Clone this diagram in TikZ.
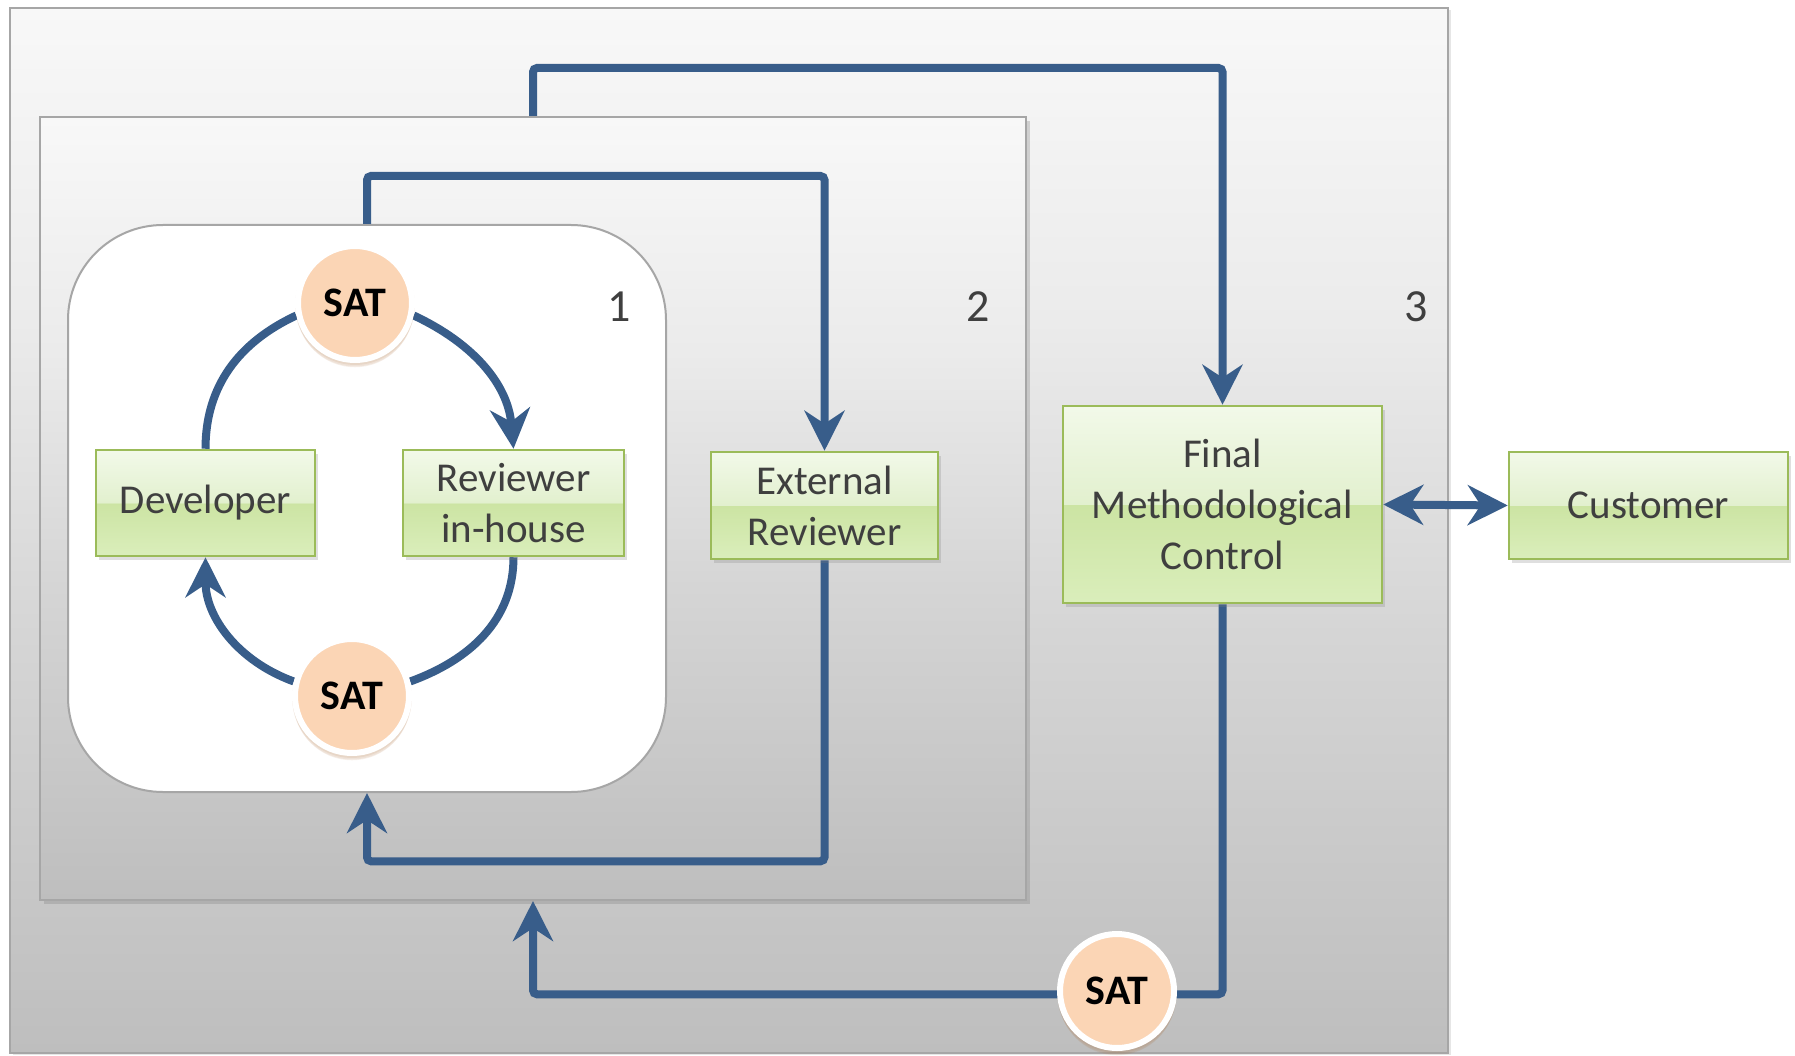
\documentclass[tikz,border=0pt]{standalone}
\usepackage{fontspec}
\setmainfont{Carlito}
\usetikzlibrary{arrows.meta,shadows,calc}
\definecolor{lineblue}{HTML}{385D8A}
\definecolor{gborder}{HTML}{9BBB59}
\definecolor{gtop}{HTML}{F2F9E9}
\definecolor{gmidl}{HTML}{E2F0CE}
\definecolor{gmidd}{HTML}{CCE4A3}
\definecolor{gbot}{HTML}{DAEEBB}
\definecolor{satfill}{HTML}{FBD5B5}
\definecolor{satshadow}{HTML}{B0703A}
\definecolor{txtgray}{HTML}{3F3F3F}
\definecolor{boxedge}{HTML}{A6A6A6}
\definecolor{gya}{HTML}{BEBEBE}
\definecolor{gyb}{HTML}{D5D5D5}
\definecolor{gyc}{HTML}{EBEBEB}
\definecolor{gyd}{HTML}{F8F8F8}
\pgfdeclareverticalshading{greenbox}{100bp}{color(0bp)=(gbot); color(25bp)=(gbot); color(50bp)=(gmidd); color(50.01bp)=(gmidl); color(75bp)=(gtop); color(100bp)=(gtop)}
\pgfdeclareverticalshading{greybg}{100bp}{color(0bp)=(gya); color(25bp)=(gya); color(45bp)=(gyb); color(60bp)=(gyc); color(75bp)=(gyd); color(100bp)=(gyd)}
\pgfdeclarelayer{back}
\pgfdeclarelayer{mid}
\pgfsetlayers{back,mid,main}
\begin{document}
\begin{tikzpicture}[x=1pt,y=-1pt,
  >={Stealth[length=40pt,width=40pt,inset=13pt]},
  panel/.style={draw=boxedge, line width=2pt, shading=greybg, inner sep=0pt},
  inner/.style={draw=boxedge, line width=2pt, fill=white, rounded corners=95pt, inner sep=0pt},
  gbox/.style={draw=gborder, line width=2.5pt, shading=greenbox, text=txtgray,
    font=\fontsize{41}{51}\selectfont, align=center, inner sep=0pt,
    drop shadow={shadow xshift=3pt, shadow yshift=-4pt, opacity=0.25}},
  sat/.style={circle, draw=white, line width=6pt, fill=satfill, minimum size=114pt,
    inner sep=0pt, text=black, font=\bfseries\fontsize{42}{44}\selectfont,
    drop shadow={shadow xshift=0pt, shadow yshift=-2pt, shadow scale=1.05, fill=satshadow, opacity=0.10},
    drop shadow={shadow xshift=0pt, shadow yshift=-4pt, shadow scale=1.04, fill=satshadow, opacity=0.10},
    drop shadow={shadow xshift=0pt, shadow yshift=-6pt, shadow scale=1.02, fill=satshadow, opacity=0.10}},
  numlbl/.style={text=txtgray, font=\fontsize{46}{50}\selectfont, inner sep=0pt},
  flow/.style={draw=lineblue, line width=8pt, rounded corners=4pt}]
\useasboundingbox (0,0) rectangle (1795,1056);
\begin{pgfonlayer}{back}
  \node[panel, minimum width=1438pt, minimum height=1045pt,
    drop shadow={shadow xshift=3pt, shadow yshift=-2pt, opacity=0.2}] (box3) at (729,530.5) {};
  \node[panel, minimum width=986pt, minimum height=783pt,
    drop shadow={shadow xshift=4pt, shadow yshift=-4pt, opacity=0.3}] (box2) at (533,508.5) {};
  \node[inner, minimum width=598pt, minimum height=567pt] (box1) at (367,508.5) {};
\end{pgfonlayer}
% boxes
\node[gbox, minimum width=219pt, minimum height=106pt] (dev) at (205.5,503) {Developer};
\node[gbox, minimum width=221pt, minimum height=106pt] (rev) at (513.5,503) {Reviewer\\in-house};
\node[gbox, minimum width=227pt, minimum height=107pt] (ext) at (824.5,505.5) {External\\Reviewer};
\node[gbox, minimum width=319pt, minimum height=197pt] (final) at (1222.5,504.5) {Final\\Methodological\\Control};
\node[gbox, minimum width=279pt, minimum height=107pt] (cust) at (1648.5,505.5) {Customer};
% SAT
\node[sat] (sat1) at (355,303) {SAT};
\node[sat] (sat2) at (352,696) {SAT};
\node[sat] (sat3) at (1117,991) {SAT};
% numbers
\node[numlbl] (n1) at (619,307) {1};
\node[numlbl] (n2) at (978,307) {2};
\node[numlbl] (n3) at (1416,307) {3};
\begin{pgfonlayer}{mid}
  \draw[flow] (sat1.192) to[out=205, in=90] (dev.north);
  \draw[flow,->] (sat1.-12) to[out=-25, in=95] (rev.north);
  \draw[flow] (rev.south) to[out=-90, in=20] (sat2.14);
  \draw[flow,->] (sat2.166) to[out=160, in=-90] (dev.south);
  \draw[flow,->] (box1.north) -- ++(0,-48) -| (ext.north);
  \draw[flow,->] (box2.north) -- ++(0,-48) -| (final.north);
  \draw[flow,->] (ext.south) -- ++(0,301) -| (box1.south);
  \draw[flow,->] (final.south) -- ++(0,390) -| (box2.south);
  \draw[flow,<->] (final.east) -- (cust.west);
\end{pgfonlayer}
\end{tikzpicture}
\end{document}
